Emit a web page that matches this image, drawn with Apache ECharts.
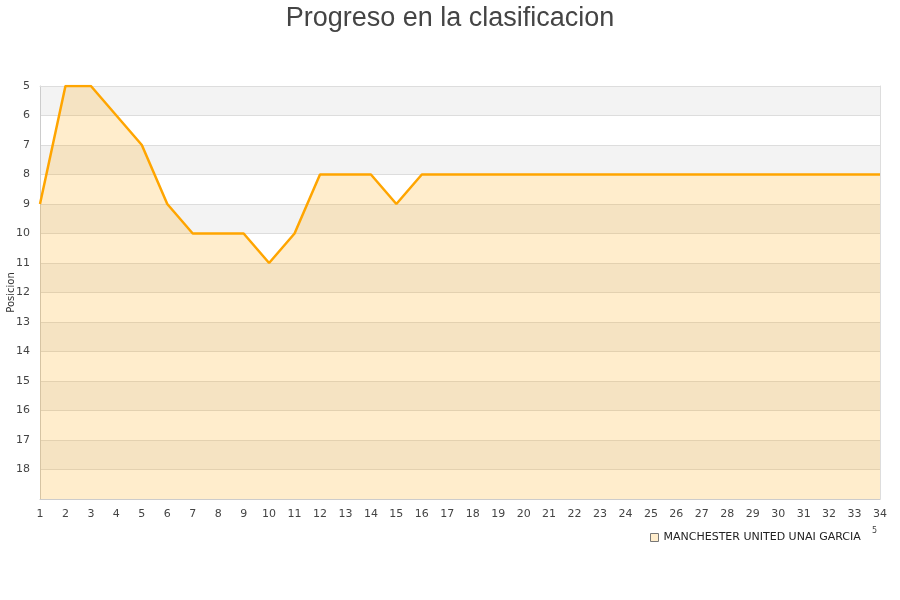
<!DOCTYPE html>
<html>
<head>
<meta charset="utf-8">
<script src="https://cdn.jsdelivr.net/npm/echarts@6/dist/echarts.min.js"></script>
<style>html,body{margin:0;padding:0;background:#fff}#c{width:900px;height:600px}</style>
</head>
<body>
<div id="c"></div>
<script>
var jornadas = ['1','2','3','4','5','6','7','8','9','10','11','12','13','14','15','16','17','18','19','20','21','22','23','24','25','26','27','28','29','30','31','32','33','34'];
var posiciones = [9,5,5,6,7,9,10,10,10,11,10,8,8,8,9,8,8,8,8,8,8,8,8,8,8,8,8,8,8,8,8,8,8,8];
var equipo = 'MANCHESTER UNITED UNAI GARCIA';
var titulo = 'Progreso en la clasificacion';
var ejeY = 'Posicion';

var chart = echarts.init(document.getElementById('c'));
var lbl = {fontFamily:'DejaVu Sans', fontSize:11, color:'#444'};
chart.setOption({
  animation:false,
  title:{text:titulo, left:'center', top:0, textStyle:{fontFamily:'Liberation Sans', fontSize:27, fontWeight:'normal', color:'#444'}},
  grid:{left:40, right:20, top:86, bottom:101, containLabel:false, outerBoundsMode:'none'},
  legend:{data:[{name:equipo, itemStyle:{color:'#ffedcc', borderColor:'#777', borderWidth:1}}], left:645, top:527, icon:'rect', itemWidth:8, itemHeight:8, itemGap:6, textStyle:{fontFamily:'DejaVu Sans', fontSize:11, color:'#222'}},
  graphic:[{type:'text', left:872, top:527, style:{text:'5', font:'8px DejaVu Sans', fill:'#444'}}],
  xAxis:[{type:'category', data:jornadas, boundaryGap:false,
    axisLine:{lineStyle:{color:'#ccc'}}, axisTick:{show:false},
    axisLabel:Object.assign({margin:10, interval:0}, lbl), splitLine:{show:false}},
    {type:'category', data:jornadas, position:'top', boundaryGap:false, axisLine:{lineStyle:{color:'#ddd'}}, axisTick:{show:false}, axisLabel:{show:false}}],
  yAxis:[{type:'value', inverse:true, min:5, max:19, interval:1, name:ejeY, nameLocation:'middle', nameGap:24, nameMoveOverlap:false,
    nameTextStyle:{fontFamily:'DejaVu Sans', fontSize:10, color:'#333'},
    axisLine:{show:true, lineStyle:{color:'#ccc'}}, axisTick:{show:false},
    axisLabel:Object.assign({margin:10, showMaxLabel:false}, lbl),
    splitLine:{show:true, lineStyle:{color:'#ddd'}},
    splitArea:{show:true, areaStyle:{color:['#f3f3f3','#ffffff']}}},
    {type:'value', inverse:true, min:5, max:19, interval:1, position:'right', axisLine:{show:true, lineStyle:{color:'#ddd'}}, axisTick:{show:false}, axisLabel:{show:false}, splitLine:{show:false}}],
  series:[{name:equipo, type:'line', data:posiciones, showSymbol:false, symbol:'none',
    lineStyle:{color:'#ffa500', width:2.5}, itemStyle:{color:'#ffa500'},
    areaStyle:{color:'#ffa500', opacity:0.2, origin:'end'}}]
});
</script>
</body>
</html>
